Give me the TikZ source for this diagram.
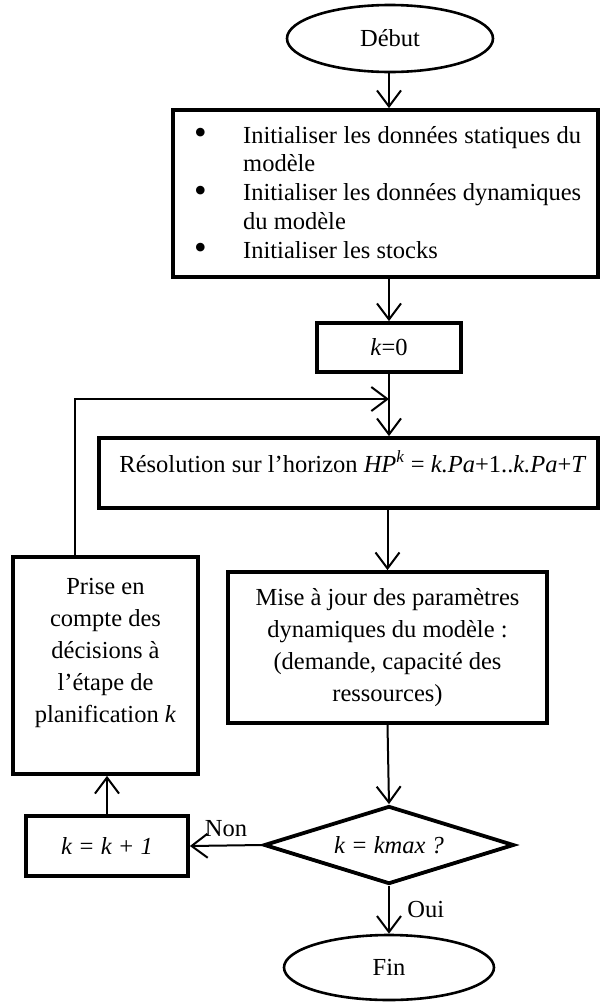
\documentclass[tikz,border=0pt]{standalone}
\usepackage{fontspec}
\setmainfont{Liberation Serif}
\usetikzlibrary{arrows.meta,shapes.geometric,calc}
\newcommand{\bigbul}{\leavevmode\llap{\raisebox{-1.5pt}{\fontsize{36}{36}\selectfont\textbullet}\hspace{36.5pt}}}
\begin{document}
\begin{tikzpicture}[x=1pt,y=-1pt,
  font=\fontsize{24.5}{32}\selectfont,
  arr/.style={line width=2pt,-{Straight Barb[length=16pt,width=24pt,line width=2pt]}},
  boxn/.style={draw,line width=3.8pt,inner sep=0pt},
  ell/.style={draw,ellipse,line width=2.6pt,inner sep=0pt},
  txt/.style={inner sep=0pt}
]
\useasboundingbox (0,0) rectangle (601,1002);

% nodes
\node[ell,minimum width=206pt,minimum height=67pt] (debut) at (390,38.5) {Début};

\node[boxn,minimum width=425pt,minimum height=167pt] (init) at (385.5,193.5) {};
\node[txt,anchor=base west] (inittxt) at (243,143) {\parbox[t]{338pt}{\fontsize{24.5}{28.8}\selectfont
\bigbul Initialiser les données statiques du\linebreak modèle\par
\bigbul Initialiser les données dynamiques\linebreak du modèle\par
\bigbul Initialiser les stocks}};

\node[boxn,minimum width=144pt,minimum height=49pt] (k0) at (389,347.5) {\textit{k}=0};

\node[boxn,minimum width=499pt,minimum height=70pt] (res) at (348.5,473) {};
\node[txt,anchor=base] (restxt) at (353,472) {Résolution sur l’horizon \textit{HP}\textsuperscript{\textit{k}} = \textit{k.Pa}+1..\textit{k.Pa}+\textit{T}};

\node[boxn,minimum width=319pt,minimum height=151pt,align=center] (mise) at (387.5,647.5)
  {Mise à jour des paramètres\\dynamiques du modèle :\\(demande, capacité des\\ressources)};

\node[boxn,minimum width=185pt,minimum height=217pt] (prise) at (105.5,665.5) {};
\node[txt,align=center] (prisetxt) at (105.5,653) {Prise en\\compte des\\décisions à\\l’étape de\\planification \textit{k}};

\node[boxn,minimum width=162pt,minimum height=60pt] (kk) at (107,846) {\textit{k = k + 1}};

\node[draw,diamond,line width=3.8pt,aspect=3.2,inner sep=0pt,minimum width=250pt,minimum height=78pt] (dec) at (389,845) {\textit{k = kmax ?}};

\node[ell,minimum width=210pt,minimum height=65pt] (fin) at (389,967.5) {Fin};

\coordinate (merge) at (389,399);

% connectors
\draw[arr] (debut.south -| k0) -- (init.north -| k0);
\draw[arr] (init.south -| k0) -- (k0.north);
\draw[arr] (k0.south) -- (k0.south |- res.north);
\draw[arr] ($(prise.north west)!0.34!(prise.north east)$) |- (merge);
\draw[arr] (res.south -| mise) -- (mise.north);
\draw[arr] (mise.south) -- (dec.north);
\draw[arr] (dec.west) -- node[above=4pt] (non) {Non} (kk.east);
\draw[arr] (kk.north) -- (kk.north |- prise.south);
\draw[arr] (dec.south) -- node[right=14pt] (oui) {Oui} (fin.north);
\end{tikzpicture}
\end{document}
